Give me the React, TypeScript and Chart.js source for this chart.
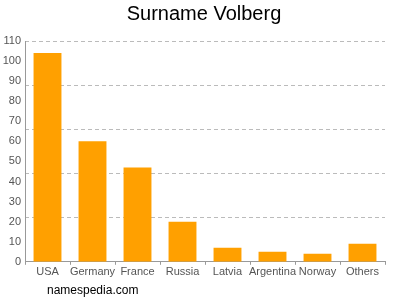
import React, { useEffect, useRef } from "react";
import { Chart, registerables } from "chart.js";

Chart.register(...registerables);

const categories = ["USA", "Germany", "France", "Russia", "Latvia", "Argentina", "Norway", "Others"];
const counts = [104, 60, 47, 20, 7, 5, 4, 9];
const titleText = "Surname Volberg";
const footerText = "namespedia.com";

const FONT = "'Liberation Sans', Arial, Helvetica, sans-serif";

const textPlugin = {
  id: "textPlugin",
  afterDraw(chart: any) {
    const ctx = chart.ctx;
    ctx.save();
    ctx.fillStyle = "#000";
    ctx.textBaseline = "alphabetic";
    ctx.font = `20px ${FONT}`;
    ctx.textAlign = "center";
    ctx.fillText(titleText, 204, 20);
    ctx.font = `12px ${FONT}`;
    ctx.textAlign = "left";
    ctx.fillText(footerText, 47, 294);
    ctx.restore();
  },
};

export default function App() {
  const ref = useRef<HTMLCanvasElement | null>(null);
  useEffect(() => {
    if (!ref.current) return;
    const chart = new Chart(ref.current, {
      type: "bar",
      data: {
        labels: categories,
        datasets: [
          {
            data: counts,
            backgroundColor: "#ffa000",
            borderWidth: 0,
            barPercentage: 0.62,
            categoryPercentage: 1,
          },
        ],
      },
      options: {
        responsive: false,
        animation: false,
        layout: { padding: { left: 0, right: 15, top: 41, bottom: 20 } },
        plugins: {
          legend: { display: false },
          tooltip: { enabled: false },
          title: { display: false },
        },
        scales: {
          x: {
            offset: true,
            grid: { display: true, drawOnChartArea: false, tickLength: 3, color: "#999" },
            border: { display: true, color: "#999" },
            ticks: { color: "#555", font: { family: FONT, size: 11 }, padding: 1, maxRotation: 0, autoSkip: false },
          },
          y: {
            min: 0,
            max: 110,
            grid: { display: false, tickLength: 0 },
            border: { display: true, color: "#999" },
            ticks: { stepSize: 10, color: "#555", font: { family: FONT, size: 11 }, padding: 4 },
            afterFit: (scale: any) => {
              scale.width = 25;
            },
          },
          yGrid: {
            position: "right",
            min: 0,
            max: 110,
            grid: { display: true, drawTicks: false, color: "#bbb" },
            border: { display: false, dash: [4, 3] },
            ticks: { display: false, stepSize: 22 },
          },
        },
      },
      plugins: [textPlugin],
    });
    return () => chart.destroy();
  }, []);
  return (
    <div style={{ position: "fixed", left: 0, top: 0, width: 400, height: 300, background: "#fff" }}>
      <canvas ref={ref} width={400} height={300} style={{ display: "block" }} />
    </div>
  );
}
